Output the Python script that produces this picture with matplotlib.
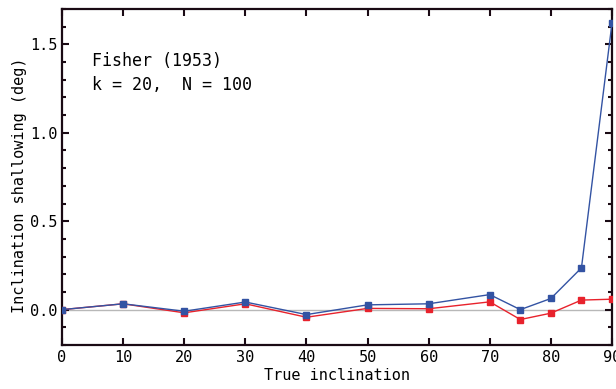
import matplotlib
matplotlib.use("Agg")
import matplotlib.pyplot as plt
from matplotlib.ticker import MultipleLocator, FormatStrFormatter

# true inclination (deg)
incl = [0, 10, 20, 30, 40, 50, 60, 70, 75, 80, 85, 90]
# shallowing, two series
blue_vals = [0.0, 0.033, -0.009, 0.043, -0.028, 0.027, 0.033, 0.085, 0.0, 0.063, 0.236, 1.62]
red_vals = [0.0, 0.033, -0.018, 0.033, -0.043, 0.007, 0.005, 0.044, -0.056, -0.02, 0.054, 0.059]

plt.rcParams['font.family'] = ['DejaVu Sans Mono']

fig = plt.figure(figsize=(6.16, 3.89), dpi=100)
ax = fig.add_axes([0.1006, 0.1131, 0.8929, 0.8638])

ax.axhline(0, color='#b8b8b8', lw=1, zorder=1)
ax.plot(incl, red_vals, color='#e8222c', lw=1, marker='s', ms=4.5, zorder=3)
ax.plot(incl, blue_vals, color='#3353a3', lw=1, marker='s', ms=4.5, zorder=4)

ax.set_xlim(0, 90)
ax.set_ylim(-0.2, 1.7)
ax.xaxis.set_major_locator(MultipleLocator(10))
ax.yaxis.set_major_locator(MultipleLocator(0.5))
ax.yaxis.set_minor_locator(MultipleLocator(0.1))
ax.yaxis.set_major_formatter(FormatStrFormatter('%.1f'))

ax.tick_params(which='both', direction='in', top=True, right=True, width=1.5,
               labelsize=11, color='#1a0a14')
ax.tick_params(which='major', length=5)
ax.tick_params(which='minor', length=3)
ax.tick_params(axis='x', which='minor', top=False, bottom=False)
for s in ax.spines.values():
    s.set_linewidth(1.6)
    s.set_color('#1a0a14')

ax.set_xlabel('True inclination', fontsize=11, labelpad=2)
ax.set_ylabel('Inclination shallowing (deg)', fontsize=11)
ax.yaxis.set_label_coords(-0.064, 0.476)

ax.text(4.9, 1.378, 'Fisher (1953)', fontsize=12, va='baseline')
ax.text(4.9, 1.243, 'k = 20,  N = 100', fontsize=12, va='baseline')

fig.savefig('out.png', dpi=100)
